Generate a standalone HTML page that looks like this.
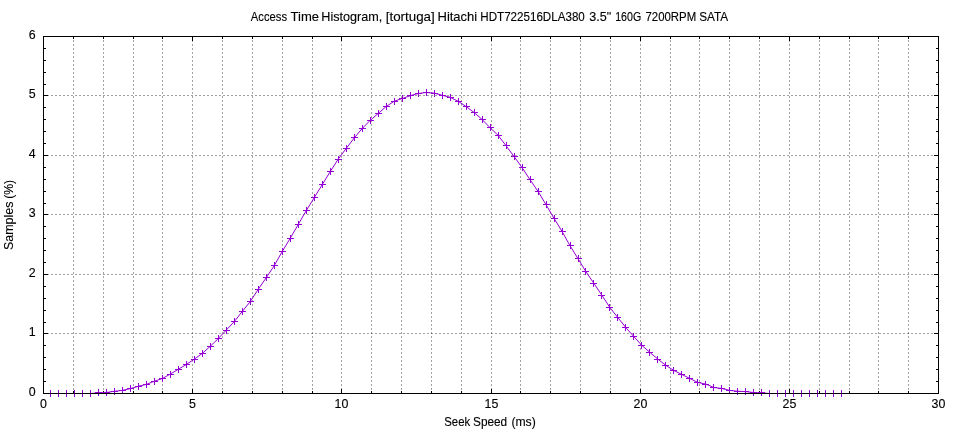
<!DOCTYPE html><html><head><meta charset="utf-8"><title>Access Time Histogram</title>
<style>html,body{margin:0;padding:0;background:#fff;}body{width:960px;height:432px;overflow:hidden;}svg{display:block;will-change:transform;}text{font-family:"Liberation Sans",sans-serif;font-size:12.4px;fill:#000;stroke:#000;stroke-width:0.12px;}</style></head><body>
<svg width="960" height="432" viewBox="0 0 960 432">
<rect x="0" y="0" width="960" height="432" fill="#fff"/>
<g stroke="#000" stroke-opacity="0.36" stroke-width="1" stroke-dasharray="2 2" shape-rendering="crispEdges" fill="none">
<line x1="43" y1="333.5" x2="939" y2="333.5"/>
<line x1="43" y1="274.5" x2="939" y2="274.5"/>
<line x1="43" y1="214.5" x2="939" y2="214.5"/>
<line x1="43" y1="155.5" x2="939" y2="155.5"/>
<line x1="43" y1="95.5" x2="939" y2="95.5"/>
<line x1="73.5" y1="36" x2="73.5" y2="394"/>
<line x1="103.5" y1="36" x2="103.5" y2="394"/>
<line x1="133.5" y1="36" x2="133.5" y2="394"/>
<line x1="162.5" y1="36" x2="162.5" y2="394"/>
<line x1="192.5" y1="36" x2="192.5" y2="394"/>
<line x1="222.5" y1="36" x2="222.5" y2="394"/>
<line x1="252.5" y1="36" x2="252.5" y2="394"/>
<line x1="282.5" y1="36" x2="282.5" y2="394"/>
<line x1="312.5" y1="36" x2="312.5" y2="394"/>
<line x1="341.5" y1="36" x2="341.5" y2="394"/>
<line x1="371.5" y1="36" x2="371.5" y2="394"/>
<line x1="401.5" y1="36" x2="401.5" y2="394"/>
<line x1="431.5" y1="36" x2="431.5" y2="394"/>
<line x1="461.5" y1="36" x2="461.5" y2="394"/>
<line x1="491.5" y1="36" x2="491.5" y2="394"/>
<line x1="520.5" y1="36" x2="520.5" y2="394"/>
<line x1="550.5" y1="36" x2="550.5" y2="394"/>
<line x1="580.5" y1="36" x2="580.5" y2="394"/>
<line x1="610.5" y1="36" x2="610.5" y2="394"/>
<line x1="640.5" y1="36" x2="640.5" y2="394"/>
<line x1="670.5" y1="36" x2="670.5" y2="394"/>
<line x1="699.5" y1="36" x2="699.5" y2="394"/>
<line x1="729.5" y1="36" x2="729.5" y2="394"/>
<line x1="759.5" y1="36" x2="759.5" y2="394"/>
<line x1="789.5" y1="36" x2="789.5" y2="394"/>
<line x1="819.5" y1="36" x2="819.5" y2="394"/>
<line x1="849.5" y1="36" x2="849.5" y2="394"/>
<line x1="878.5" y1="36" x2="878.5" y2="394"/>
<line x1="908.5" y1="36" x2="908.5" y2="394"/>
</g>
<g stroke="#000" stroke-width="1" shape-rendering="crispEdges" fill="none">
<line x1="44" y1="393.5" x2="48" y2="393.5"/>
<line x1="934" y1="393.5" x2="938" y2="393.5"/>
<line x1="44" y1="381.5" x2="46" y2="381.5"/>
<line x1="936" y1="381.5" x2="938" y2="381.5"/>
<line x1="44" y1="369.5" x2="46" y2="369.5"/>
<line x1="936" y1="369.5" x2="938" y2="369.5"/>
<line x1="44" y1="357.5" x2="46" y2="357.5"/>
<line x1="936" y1="357.5" x2="938" y2="357.5"/>
<line x1="44" y1="345.5" x2="46" y2="345.5"/>
<line x1="936" y1="345.5" x2="938" y2="345.5"/>
<line x1="44" y1="333.5" x2="48" y2="333.5"/>
<line x1="934" y1="333.5" x2="938" y2="333.5"/>
<line x1="44" y1="322.5" x2="46" y2="322.5"/>
<line x1="936" y1="322.5" x2="938" y2="322.5"/>
<line x1="44" y1="310.5" x2="46" y2="310.5"/>
<line x1="936" y1="310.5" x2="938" y2="310.5"/>
<line x1="44" y1="298.5" x2="46" y2="298.5"/>
<line x1="936" y1="298.5" x2="938" y2="298.5"/>
<line x1="44" y1="286.5" x2="46" y2="286.5"/>
<line x1="936" y1="286.5" x2="938" y2="286.5"/>
<line x1="44" y1="274.5" x2="48" y2="274.5"/>
<line x1="934" y1="274.5" x2="938" y2="274.5"/>
<line x1="44" y1="262.5" x2="46" y2="262.5"/>
<line x1="936" y1="262.5" x2="938" y2="262.5"/>
<line x1="44" y1="250.5" x2="46" y2="250.5"/>
<line x1="936" y1="250.5" x2="938" y2="250.5"/>
<line x1="44" y1="238.5" x2="46" y2="238.5"/>
<line x1="936" y1="238.5" x2="938" y2="238.5"/>
<line x1="44" y1="226.5" x2="46" y2="226.5"/>
<line x1="936" y1="226.5" x2="938" y2="226.5"/>
<line x1="44" y1="214.5" x2="48" y2="214.5"/>
<line x1="934" y1="214.5" x2="938" y2="214.5"/>
<line x1="44" y1="203.5" x2="46" y2="203.5"/>
<line x1="936" y1="203.5" x2="938" y2="203.5"/>
<line x1="44" y1="191.5" x2="46" y2="191.5"/>
<line x1="936" y1="191.5" x2="938" y2="191.5"/>
<line x1="44" y1="179.5" x2="46" y2="179.5"/>
<line x1="936" y1="179.5" x2="938" y2="179.5"/>
<line x1="44" y1="167.5" x2="46" y2="167.5"/>
<line x1="936" y1="167.5" x2="938" y2="167.5"/>
<line x1="44" y1="155.5" x2="48" y2="155.5"/>
<line x1="934" y1="155.5" x2="938" y2="155.5"/>
<line x1="44" y1="143.5" x2="46" y2="143.5"/>
<line x1="936" y1="143.5" x2="938" y2="143.5"/>
<line x1="44" y1="131.5" x2="46" y2="131.5"/>
<line x1="936" y1="131.5" x2="938" y2="131.5"/>
<line x1="44" y1="119.5" x2="46" y2="119.5"/>
<line x1="936" y1="119.5" x2="938" y2="119.5"/>
<line x1="44" y1="107.5" x2="46" y2="107.5"/>
<line x1="936" y1="107.5" x2="938" y2="107.5"/>
<line x1="44" y1="95.5" x2="48" y2="95.5"/>
<line x1="934" y1="95.5" x2="938" y2="95.5"/>
<line x1="44" y1="84.5" x2="46" y2="84.5"/>
<line x1="936" y1="84.5" x2="938" y2="84.5"/>
<line x1="44" y1="72.5" x2="46" y2="72.5"/>
<line x1="936" y1="72.5" x2="938" y2="72.5"/>
<line x1="44" y1="60.5" x2="46" y2="60.5"/>
<line x1="936" y1="60.5" x2="938" y2="60.5"/>
<line x1="44" y1="48.5" x2="46" y2="48.5"/>
<line x1="936" y1="48.5" x2="938" y2="48.5"/>
<line x1="44" y1="36.5" x2="48" y2="36.5"/>
<line x1="934" y1="36.5" x2="938" y2="36.5"/>
<line x1="43.5" y1="389" x2="43.5" y2="393"/>
<line x1="43.5" y1="37" x2="43.5" y2="41"/>
<line x1="73.5" y1="391" x2="73.5" y2="393"/>
<line x1="73.5" y1="37" x2="73.5" y2="39"/>
<line x1="103.5" y1="391" x2="103.5" y2="393"/>
<line x1="103.5" y1="37" x2="103.5" y2="39"/>
<line x1="133.5" y1="391" x2="133.5" y2="393"/>
<line x1="133.5" y1="37" x2="133.5" y2="39"/>
<line x1="162.5" y1="391" x2="162.5" y2="393"/>
<line x1="162.5" y1="37" x2="162.5" y2="39"/>
<line x1="192.5" y1="389" x2="192.5" y2="393"/>
<line x1="192.5" y1="37" x2="192.5" y2="41"/>
<line x1="222.5" y1="391" x2="222.5" y2="393"/>
<line x1="222.5" y1="37" x2="222.5" y2="39"/>
<line x1="252.5" y1="391" x2="252.5" y2="393"/>
<line x1="252.5" y1="37" x2="252.5" y2="39"/>
<line x1="282.5" y1="391" x2="282.5" y2="393"/>
<line x1="282.5" y1="37" x2="282.5" y2="39"/>
<line x1="312.5" y1="391" x2="312.5" y2="393"/>
<line x1="312.5" y1="37" x2="312.5" y2="39"/>
<line x1="341.5" y1="389" x2="341.5" y2="393"/>
<line x1="341.5" y1="37" x2="341.5" y2="41"/>
<line x1="371.5" y1="391" x2="371.5" y2="393"/>
<line x1="371.5" y1="37" x2="371.5" y2="39"/>
<line x1="401.5" y1="391" x2="401.5" y2="393"/>
<line x1="401.5" y1="37" x2="401.5" y2="39"/>
<line x1="431.5" y1="391" x2="431.5" y2="393"/>
<line x1="431.5" y1="37" x2="431.5" y2="39"/>
<line x1="461.5" y1="391" x2="461.5" y2="393"/>
<line x1="461.5" y1="37" x2="461.5" y2="39"/>
<line x1="491.5" y1="389" x2="491.5" y2="393"/>
<line x1="491.5" y1="37" x2="491.5" y2="41"/>
<line x1="520.5" y1="391" x2="520.5" y2="393"/>
<line x1="520.5" y1="37" x2="520.5" y2="39"/>
<line x1="550.5" y1="391" x2="550.5" y2="393"/>
<line x1="550.5" y1="37" x2="550.5" y2="39"/>
<line x1="580.5" y1="391" x2="580.5" y2="393"/>
<line x1="580.5" y1="37" x2="580.5" y2="39"/>
<line x1="610.5" y1="391" x2="610.5" y2="393"/>
<line x1="610.5" y1="37" x2="610.5" y2="39"/>
<line x1="640.5" y1="389" x2="640.5" y2="393"/>
<line x1="640.5" y1="37" x2="640.5" y2="41"/>
<line x1="670.5" y1="391" x2="670.5" y2="393"/>
<line x1="670.5" y1="37" x2="670.5" y2="39"/>
<line x1="699.5" y1="391" x2="699.5" y2="393"/>
<line x1="699.5" y1="37" x2="699.5" y2="39"/>
<line x1="729.5" y1="391" x2="729.5" y2="393"/>
<line x1="729.5" y1="37" x2="729.5" y2="39"/>
<line x1="759.5" y1="391" x2="759.5" y2="393"/>
<line x1="759.5" y1="37" x2="759.5" y2="39"/>
<line x1="789.5" y1="389" x2="789.5" y2="393"/>
<line x1="789.5" y1="37" x2="789.5" y2="41"/>
<line x1="819.5" y1="391" x2="819.5" y2="393"/>
<line x1="819.5" y1="37" x2="819.5" y2="39"/>
<line x1="849.5" y1="391" x2="849.5" y2="393"/>
<line x1="849.5" y1="37" x2="849.5" y2="39"/>
<line x1="878.5" y1="391" x2="878.5" y2="393"/>
<line x1="878.5" y1="37" x2="878.5" y2="39"/>
<line x1="908.5" y1="391" x2="908.5" y2="393"/>
<line x1="908.5" y1="37" x2="908.5" y2="39"/>
<line x1="938.5" y1="389" x2="938.5" y2="393"/>
<line x1="938.5" y1="37" x2="938.5" y2="41"/>
</g>
<path d="M50.40,393.50 L58.39,393.50 L66.39,393.50 L74.38,393.50 L82.38,393.50 L90.37,393.50 L98.36,392.90 L106.36,392.50 L114.35,391.25 L122.35,390.40 L130.34,388.60 L138.33,386.30 L146.33,384.40 L154.32,381.25 L162.32,378.50 L170.31,374.10 L178.30,369.25 L186.30,364.50 L194.29,359.20 L202.29,353.40 L210.28,346.30 L218.27,338.50 L226.27,330.10 L234.26,321.60 L242.26,311.50 L250.25,301.50 L258.24,289.30 L266.24,277.70 L274.23,265.70 L282.23,251.50 L290.22,238.30 L298.21,224.50 L306.21,210.70 L314.20,197.70 L322.20,184.70 L330.19,171.70 L338.18,159.20 L346.18,148.50 L354.17,138.00 L362.17,128.50 L370.16,120.40 L378.15,113.50 L386.15,106.50 L394.14,101.25 L402.14,98.50 L410.13,95.75 L418.12,93.50 L426.12,92.50 L434.11,93.10 L442.11,95.25 L450.10,97.25 L458.09,101.25 L466.09,106.50 L474.08,112.50 L482.08,119.50 L490.07,127.70 L498.06,135.30 L506.06,145.70 L514.05,156.50 L522.05,167.60 L530.04,179.70 L538.03,191.30 L546.03,204.70 L554.02,218.30 L562.02,231.40 L570.01,245.70 L578.00,258.70 L586.00,271.80 L593.99,283.50 L601.99,295.40 L609.98,307.70 L617.97,317.70 L625.97,327.70 L633.96,336.70 L641.96,345.50 L649.95,352.40 L657.94,359.20 L665.94,365.40 L673.93,370.50 L681.93,374.50 L689.92,378.50 L697.91,382.50 L705.91,384.10 L713.90,387.50 L721.90,388.50 L729.89,390.40 L737.88,391.25 L745.88,391.60 L753.87,392.60 L761.87,392.90 L769.86,393.50 L777.85,393.50 L785.85,393.50 L793.84,393.50 L801.84,393.50 L809.83,393.50 L817.82,393.50 L825.82,393.50 L833.81,393.50 L841.81,393.50" stroke="#9400d3" stroke-width="1" fill="none" stroke-linejoin="round"/>
<path d="M47.0,393.5h7M50.5,390.0v7M55.0,393.5h7M58.5,390.0v7M63.0,393.5h7M66.5,390.0v7M71.0,393.5h7M74.5,390.0v7M79.0,393.5h7M82.5,390.0v7M87.0,393.5h7M90.5,390.0v7M95.0,392.5h7M98.5,389.0v7M103.0,392.5h7M106.5,389.0v7M111.0,391.5h7M114.5,388.0v7M119.0,390.5h7M122.5,387.0v7M127.0,388.5h7M130.5,385.0v7M135.0,386.5h7M138.5,383.0v7M143.0,384.5h7M146.5,381.0v7M151.0,381.5h7M154.5,378.0v7M159.0,378.5h7M162.5,375.0v7M167.0,374.5h7M170.5,371.0v7M175.0,369.5h7M178.5,366.0v7M183.0,364.5h7M186.5,361.0v7M191.0,359.5h7M194.5,356.0v7M199.0,353.5h7M202.5,350.0v7M207.0,346.5h7M210.5,343.0v7M215.0,338.5h7M218.5,335.0v7M223.0,330.5h7M226.5,327.0v7M231.0,321.5h7M234.5,318.0v7M239.0,311.5h7M242.5,308.0v7M247.0,301.5h7M250.5,298.0v7M255.0,289.5h7M258.5,286.0v7M263.0,277.5h7M266.5,274.0v7M271.0,265.5h7M274.5,262.0v7M279.0,251.5h7M282.5,248.0v7M287.0,238.5h7M290.5,235.0v7M295.0,224.5h7M298.5,221.0v7M303.0,210.5h7M306.5,207.0v7M311.0,197.5h7M314.5,194.0v7M319.0,184.5h7M322.5,181.0v7M327.0,171.5h7M330.5,168.0v7M335.0,159.5h7M338.5,156.0v7M343.0,148.5h7M346.5,145.0v7M351.0,137.5h7M354.5,134.0v7M359.0,128.5h7M362.5,125.0v7M367.0,120.5h7M370.5,117.0v7M375.0,113.5h7M378.5,110.0v7M383.0,106.5h7M386.5,103.0v7M391.0,101.5h7M394.5,98.0v7M399.0,98.5h7M402.5,95.0v7M407.0,95.5h7M410.5,92.0v7M415.0,93.5h7M418.5,90.0v7M423.0,92.5h7M426.5,89.0v7M431.0,93.5h7M434.5,90.0v7M439.0,95.5h7M442.5,92.0v7M447.0,97.5h7M450.5,94.0v7M455.0,101.5h7M458.5,98.0v7M463.0,106.5h7M466.5,103.0v7M471.0,112.5h7M474.5,109.0v7M479.0,119.5h7M482.5,116.0v7M487.0,127.5h7M490.5,124.0v7M495.0,135.5h7M498.5,132.0v7M503.0,145.5h7M506.5,142.0v7M511.0,156.5h7M514.5,153.0v7M519.0,167.5h7M522.5,164.0v7M527.0,179.5h7M530.5,176.0v7M535.0,191.5h7M538.5,188.0v7M543.0,204.5h7M546.5,201.0v7M551.0,218.5h7M554.5,215.0v7M559.0,231.5h7M562.5,228.0v7M567.0,245.5h7M570.5,242.0v7M575.0,258.5h7M578.5,255.0v7M582.0,271.5h7M585.5,268.0v7M590.0,283.5h7M593.5,280.0v7M598.0,295.5h7M601.5,292.0v7M606.0,307.5h7M609.5,304.0v7M614.0,317.5h7M617.5,314.0v7M622.0,327.5h7M625.5,324.0v7M630.0,336.5h7M633.5,333.0v7M638.0,345.5h7M641.5,342.0v7M646.0,352.5h7M649.5,349.0v7M654.0,359.5h7M657.5,356.0v7M662.0,365.5h7M665.5,362.0v7M670.0,370.5h7M673.5,367.0v7M678.0,374.5h7M681.5,371.0v7M686.0,378.5h7M689.5,375.0v7M694.0,382.5h7M697.5,379.0v7M702.0,384.5h7M705.5,381.0v7M710.0,387.5h7M713.5,384.0v7M718.0,388.5h7M721.5,385.0v7M726.0,390.5h7M729.5,387.0v7M734.0,391.5h7M737.5,388.0v7M742.0,391.5h7M745.5,388.0v7M750.0,392.5h7M753.5,389.0v7M758.0,392.5h7M761.5,389.0v7M766.0,393.5h7M769.5,390.0v7M774.0,393.5h7M777.5,390.0v7M782.0,393.5h7M785.5,390.0v7M790.0,393.5h7M793.5,390.0v7M798.0,393.5h7M801.5,390.0v7M806.0,393.5h7M809.5,390.0v7M814.0,393.5h7M817.5,390.0v7M822.0,393.5h7M825.5,390.0v7M830.0,393.5h7M833.5,390.0v7M838.0,393.5h7M841.5,390.0v7" stroke="#9400d3" stroke-width="1" fill="none"/>
<rect x="43.5" y="36.5" width="895" height="357" fill="none" stroke="#000" stroke-width="1" shape-rendering="crispEdges"/>
<text class="tw" x="250.80" y="20.7" textLength="36.20" lengthAdjust="spacingAndGlyphs">Access</text>
<text class="tw" x="290.50" y="20.7" textLength="28.50" lengthAdjust="spacingAndGlyphs">Time</text>
<text class="tw" x="321.30" y="20.7" textLength="61.00" lengthAdjust="spacingAndGlyphs">Histogram,</text>
<text class="tw" x="385.80" y="20.7" textLength="48.90" lengthAdjust="spacingAndGlyphs">[tortuga]</text>
<text class="tw" x="437.50" y="20.7" textLength="39.70" lengthAdjust="spacingAndGlyphs">Hitachi</text>
<text class="tw" x="480.30" y="20.7" textLength="104.50" lengthAdjust="spacingAndGlyphs">HDT722516DLA380</text>
<text class="tw" x="589.20" y="20.7" textLength="22.00" lengthAdjust="spacingAndGlyphs">3.5&quot;</text>
<text class="tw" x="615.20" y="20.7" textLength="26.00" lengthAdjust="spacingAndGlyphs">160G</text>
<text class="tw" x="645.50" y="20.7" textLength="50.70" lengthAdjust="spacingAndGlyphs">7200RPM</text>
<text class="tw" x="699.20" y="20.7" textLength="29.00" lengthAdjust="spacingAndGlyphs">SATA</text>
<text x="444.20" y="425.5" textLength="26.00" lengthAdjust="spacingAndGlyphs">Seek</text>
<text x="473.00" y="425.5" textLength="34.20" lengthAdjust="spacingAndGlyphs">Speed</text>
<text x="511.40" y="425.5" textLength="24.40" lengthAdjust="spacingAndGlyphs">(ms)</text>
<text transform="translate(12.9,250.00) rotate(-90)" textLength="48.40" lengthAdjust="spacingAndGlyphs">Samples</text>
<text transform="translate(12.9,198.80) rotate(-90)" textLength="19.00" lengthAdjust="spacingAndGlyphs">(%)</text>
<text class="yt" x="35.6" y="396" text-anchor="end">0</text>
<text class="yt" x="35.6" y="336" text-anchor="end">1</text>
<text class="yt" x="35.6" y="277" text-anchor="end">2</text>
<text class="yt" x="35.6" y="217" text-anchor="end">3</text>
<text class="yt" x="35.6" y="158" text-anchor="end">4</text>
<text class="yt" x="35.6" y="98" text-anchor="end">5</text>
<text class="yt" x="35.6" y="39" text-anchor="end">6</text>
<text class="xt" x="43.5" y="407.5" text-anchor="middle">0</text>
<text class="xt" x="192.5" y="407.5" text-anchor="middle">5</text>
<text class="xt" x="341.5" y="407.5" text-anchor="middle">10</text>
<text class="xt" x="491.5" y="407.5" text-anchor="middle">15</text>
<text class="xt" x="640.5" y="407.5" text-anchor="middle">20</text>
<text class="xt" x="789.5" y="407.5" text-anchor="middle">25</text>
<text class="xt" x="938.5" y="407.5" text-anchor="middle">30</text>
</svg></body></html>
